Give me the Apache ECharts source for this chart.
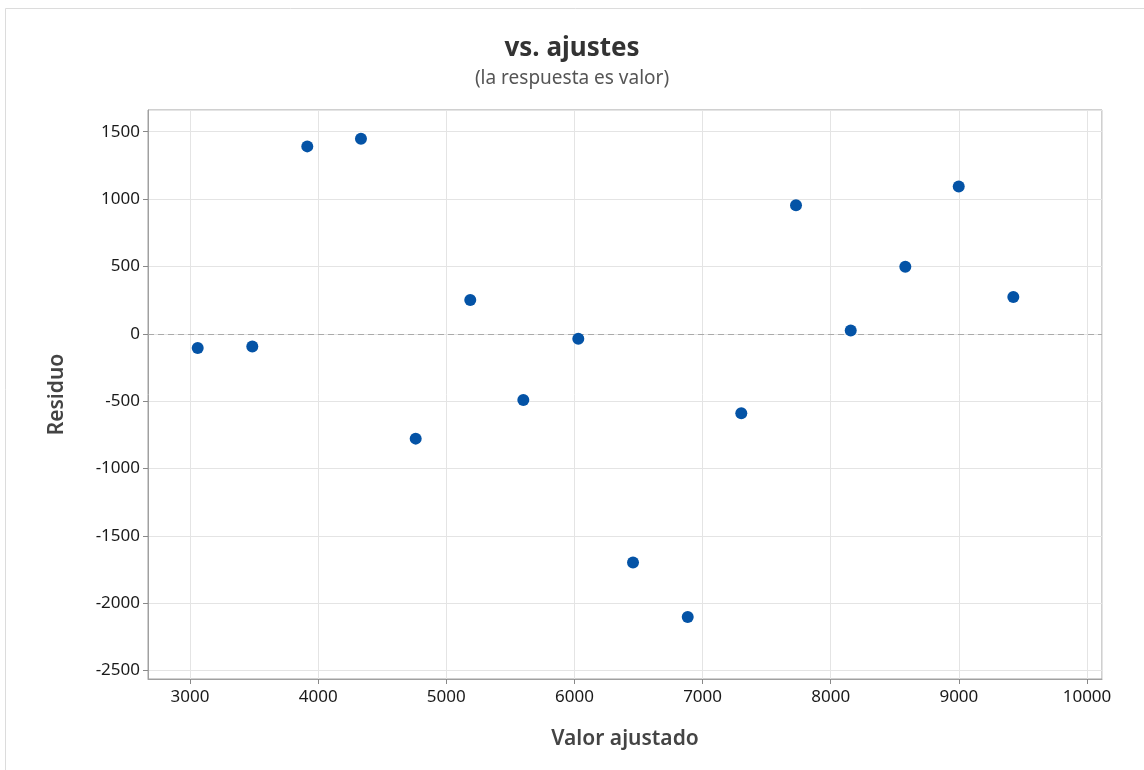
<!DOCTYPE html>
<html>
<head>
<meta charset="utf-8">
<script src="https://cdn.jsdelivr.net/npm/echarts@6/dist/echarts.min.js"></script>
<style>
html,body{margin:0;padding:0;background:#fff;}
#main{width:1144px;height:770px;}
</style>
</head>
<body>
<div id="main"></div>
<script>
// valores ajustados y residuos
var ajustados = [3060, 3486, 3915, 4334, 4761, 5187, 5601, 6030, 6457, 6884, 7302, 7729, 8156, 8582, 8999, 9425];
var residuos = [-105, -95, 1391, 1448, -778, 250, -492, -36, -1698, -2102, -589, 954, 24, 498, 1093, 273];
var xRango = [2672, 10117];
var yRango = [-2562, 1661];

var puntos = [];
for (var i = 0; i < ajustados.length; i++) {
	puntos.push([ajustados[i], residuos[i]]);
}

function sinSeparador(v) {
	return String(v);
}

var fuente = "'Noto Sans', 'Open Sans', sans-serif";
var myChart = echarts.init(document.getElementById('main'));
var option = {
	backgroundColor: '#fff',
	graphic: [{
		type: 'rect',
		shape: {x: 5.5, y: 8.5, width: 1200, height: 800},
		style: {fill: 'none', stroke: '#dcdcdc', lineWidth: 1},
		silent: true
	}],
	title: {
		text: 'vs. ajustes',
		subtext: '(la respuesta es valor)',
		left: 'center',
		top: 31,
		itemGap: 7,
		textStyle: {fontFamily: fuente, fontSize: 26, fontWeight: 'bold', color: '#333'},
		subtextStyle: {fontFamily: fuente, fontSize: 19, color: '#555'}
	},
	grid: {
		left: 148, right: 42, top: 110, bottom: 91,
		show: true, borderColor: '#a0a0a0', borderWidth: 1
	},
	xAxis: {
		type: 'value',
		min: xRango[0], max: xRango[1],
		splitNumber: 7,
		name: 'Valor ajustado',
		nameLocation: 'middle',
		nameGap: 50,
		nameTextStyle: {fontFamily: fuente, fontSize: 21, fontWeight: 600, color: '#444'},
		axisLine: {show: true, onZero: false, lineStyle: {color: '#a0a0a0'}},
		axisTick: {show: true, length: 5, lineStyle: {color: '#888'}},
		axisLabel: {fontFamily: fuente, fontSize: 17, color: '#1a1a1a', margin: 10, showMinLabel: false, showMaxLabel: false, formatter: sinSeparador},
		splitLine: {show: true, lineStyle: {color: '#e4e4e4'}}
	},
	yAxis: {
		type: 'value',
		min: yRango[0], max: yRango[1],
		splitNumber: 8,
		name: 'Residuo',
		nameLocation: 'middle',
		nameGap: 80,
		nameTextStyle: {fontFamily: fuente, fontSize: 21, fontWeight: 600, color: '#444'},
		axisLine: {show: true, onZero: false, lineStyle: {color: '#a0a0a0'}},
		axisTick: {show: true, length: 5, lineStyle: {color: '#888'}},
		axisLabel: {fontFamily: fuente, fontSize: 17, color: '#1a1a1a', margin: 8, showMinLabel: false, showMaxLabel: false, formatter: sinSeparador},
		splitLine: {show: true, lineStyle: {color: '#e4e4e4'}}
	},
	series: [{
		type: 'scatter',
		data: puntos,
		symbol: 'circle',
		symbolSize: 12,
		itemStyle: {color: '#0453a6', opacity: 1},
		z: 5,
		markLine: {
			silent: true,
			symbol: 'none',
			label: {show: false},
			lineStyle: {color: '#aaaaaa', type: [6, 4], width: 1},
			data: [{yAxis: 0}]
		}
	}]
};
myChart.setOption(option);
</script>
</body>
</html>
